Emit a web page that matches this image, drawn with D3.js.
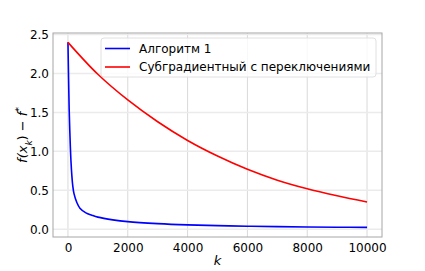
<!DOCTYPE html>
<html>
<head>
<meta charset="utf-8">
<script src="https://cdn.jsdelivr.net/npm/d3@7"></script>
<style>
  html, body { margin: 0; padding: 0; background: #fff; }
  svg text { font-family: "DejaVu Sans", sans-serif; fill: #000; }
</style>
</head>
<body>
<div id="chart"></div>
<script>
// iteration number k and f(x_k) - f* for each method
const algoK = [0, 20, 40, 60, 80, 100, 130, 160, 200, 300, 400, 600, 800, 1000,
  1500, 2000, 3000, 4000, 5000, 6000, 7000, 8000, 9000, 10000];
const algoVals = [2.40, 1.95, 1.55, 1.28, 1.06, 0.88, 0.69, 0.56, 0.46, 0.34, 0.27, 0.21, 0.18, 0.155,
  0.12, 0.097, 0.072, 0.056, 0.046, 0.038, 0.033, 0.029, 0.026, 0.024];
const subgradK = [0, 1000, 2000, 3000, 4000, 5000, 6000, 7000, 8000, 9000, 10000];
const subgradVals = [2.40, 1.99, 1.66, 1.38, 1.14, 0.94, 0.77, 0.63, 0.52, 0.43, 0.35];

const xTicks = [0, 2000, 4000, 6000, 8000, 10000];
const yTicks = [0.0, 0.5, 1.0, 1.5, 2.0, 2.5];

const series = [
  { name: "Алгоритм 1", color: "#0000ff", k: algoK, v: algoVals },
  { name: "Субградиентный с переключениями", color: "#ff0000", k: subgradK, v: subgradVals }
];

const W = 425, H = 271;
const margin = { top: 33, right: 43, bottom: 34, left: 53 };
const width = W - margin.left - margin.right;
const height = H - margin.top - margin.bottom;

const svg = d3.select("#chart").append("svg")
  .attr("width", W).attr("height", H);
const g = svg.append("g")
  .attr("transform", `translate(${margin.left},${margin.top})`);

const x = d3.scaleLinear().domain([-500, 10500]).range([0, width]);
const y = d3.scaleLinear().domain([-0.1, 2.52]).range([height, 0]);

// grid
g.append("g").selectAll("line").data(xTicks).join("line")
  .attr("x1", d => x(d)).attr("x2", d => x(d))
  .attr("y1", 0).attr("y2", height)
  .attr("stroke", "#d9d9d9").attr("stroke-width", 1);
g.append("g").selectAll("line").data(yTicks).join("line")
  .attr("x1", 0).attr("x2", width)
  .attr("y1", d => y(d)).attr("y2", d => y(d))
  .attr("stroke", "#ebebeb").attr("stroke-width", 1.5);

// axes (no tick marks, labels only)
const xAxis = g.append("g").attr("transform", `translate(0,${height})`)
  .call(d3.axisBottom(x).tickValues(xTicks).tickFormat(d3.format("d")).tickSize(0).tickPadding(6));
const yAxis = g.append("g")
  .call(d3.axisLeft(y).tickValues(yTicks).tickFormat(d3.format(".1f")).tickSize(0).tickPadding(4));
[xAxis, yAxis].forEach(a => {
  a.select(".domain").remove();
  a.selectAll("text").style("font-size", "12px").style("font-family", "DejaVu Sans");
});

// lines
const line = d3.line().curve(d3.curveCatmullRom.alpha(0.5));
series.forEach(s => {
  g.append("path")
    .datum(s.k.map((k, i) => [x(k), y(s.v[i])]))
    .attr("d", line)
    .attr("fill", "none")
    .attr("stroke", s.color)
    .attr("stroke-width", 1.6);
});

// frame
g.append("rect")
  .attr("x", 0).attr("y", 0).attr("width", width).attr("height", height)
  .attr("fill", "none").attr("stroke", "#a6a6a6").attr("stroke-width", 1);

// axis labels
g.append("text")
  .attr("x", width / 2).attr("y", height + 28)
  .attr("text-anchor", "middle")
  .style("font-size", "13px").style("font-style", "italic")
  .text("k");

const yl = g.append("text")
  .attr("transform", `translate(-26,${height / 2}) rotate(-90)`)
  .attr("text-anchor", "middle")
  .style("font-size", "13px").style("font-style", "italic");
yl.append("tspan").text("f(x");
yl.append("tspan").attr("baseline-shift", "sub").style("font-size", "9px").text("k");
yl.append("tspan").style("font-style", "normal").text(") − ");
yl.append("tspan").text("f");
yl.append("tspan").attr("baseline-shift", "super").style("font-size", "9px").text("*");

// legend
const lg = g.append("g").attr("transform", `translate(${101 - margin.left},${38 - margin.top})`);
lg.append("rect")
  .attr("width", 275).attr("height", 39).attr("rx", 3)
  .attr("fill", "#fff").attr("fill-opacity", 0.8)
  .attr("stroke", "#e0e0e0").attr("stroke-width", 1);
series.forEach((s, i) => {
  const yy = 10.5 + i * 18.5;
  lg.append("line")
    .attr("x1", 4).attr("x2", 29).attr("y1", yy).attr("y2", yy)
    .attr("stroke", s.color).attr("stroke-width", 1.6);
  lg.append("text")
    .attr("x", 38).attr("y", yy).attr("dy", "0.35em")
    .style("font-size", "12px")
    .text(s.name);
});
</script>
</body>
</html>
